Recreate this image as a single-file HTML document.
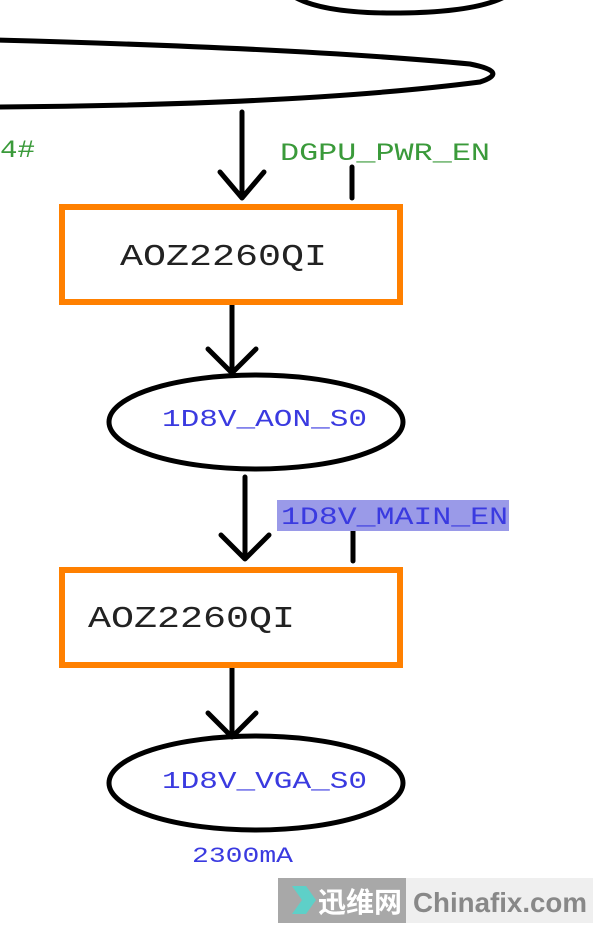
<!DOCTYPE html>
<html><head><style>
body{margin:0;background:#fff;width:600px;height:930px;overflow:hidden;position:relative}
svg{position:absolute;left:0;top:0}
</style></head><body>
<svg width="600" height="930" viewBox="0 0 600 930">
<g fill="none" stroke="#000" stroke-width="5" stroke-linecap="round" stroke-linejoin="round">
<path d="M285 -10 Q310 14 400 13 Q490 12 515 -10"/>
<path d="M-5 40 Q300 48 470 64 Q510 72 480 82 Q300 105 -5 107"/>
<path d="M242 112 V198 M220 172 L242 198 L264 172"/>
<path d="M352 167 V198"/>
<path d="M232 303 V370 M208 349 L232 373 L256 349"/>
<path d="M245 477 V558 M221 535 L245 559 L269 535"/>
<path d="M353 530 V561"/>
<path d="M232 667 V735 M208 713 L232 737 L256 713"/>
<ellipse cx="256" cy="422" rx="147" ry="47"/>
<ellipse cx="256" cy="783" rx="147" ry="47"/>
</g>
<rect x="62" y="207" width="338" height="95" fill="none" stroke="#ff8000" stroke-width="6"/>
<rect x="62" y="570" width="338" height="95" fill="none" stroke="#ff8000" stroke-width="6"/>
<rect x="277" y="500" width="232" height="31" fill="#9a9ae8"/>
<g font-family="Liberation Mono, monospace" lengthAdjust="spacingAndGlyphs">
<text x="0" y="157" fill="#3a9a3a" font-size="25" textLength="35" lengthAdjust="spacingAndGlyphs">4#</text>
<text x="280" y="160" fill="#3a9a3a" font-size="25" textLength="210" lengthAdjust="spacingAndGlyphs">DGPU_PWR_EN</text>
<text x="120" y="265" fill="#222" font-size="31" textLength="207" lengthAdjust="spacingAndGlyphs">AOZ2260QI</text>
<text x="88" y="627" fill="#222" font-size="31" textLength="207" lengthAdjust="spacingAndGlyphs">AOZ2260QI</text>
<text x="162" y="426" fill="#3a3ae0" font-size="24" textLength="205" lengthAdjust="spacingAndGlyphs">1D8V_AON_S0</text>
<text x="281" y="524" fill="#3a3ae0" font-size="25" textLength="227" lengthAdjust="spacingAndGlyphs">1D8V_MAIN_EN</text>
<text x="162" y="788" fill="#3a3ae0" font-size="24" textLength="205" lengthAdjust="spacingAndGlyphs">1D8V_VGA_S0</text>
<text x="192" y="862" fill="#3a3ae0" font-size="22" textLength="101" lengthAdjust="spacingAndGlyphs">2300mA</text>
</g>
<rect x="278" y="878" width="128" height="45" fill="#a8a8a8"/>
<rect x="406" y="878" width="187" height="45" fill="#efefef"/>
<path d="M292 886 L306 886 L316 900 L306 914 L292 914 L302 900Z" fill="#5ed0c8"/>
<text x="318" y="912" fill="#fff" font-size="28" font-weight="bold" font-family="Noto Sans CJK SC, sans-serif">迅维网</text>
<text x="413" y="912" fill="#888" font-size="28" font-weight="bold" font-family="Liberation Sans, sans-serif" textLength="174" lengthAdjust="spacingAndGlyphs">Chinafix.com</text>
</svg>
</body></html>
